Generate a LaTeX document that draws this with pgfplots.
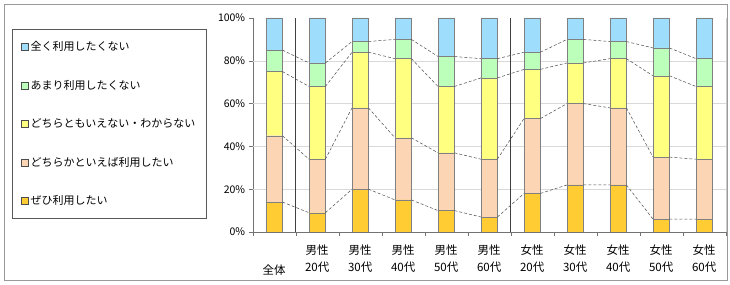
\documentclass[border=0pt]{standalone}
\usepackage{fontspec}
\setmainfont{Noto Sans CJK JP}
\usepackage{pgfplots}
\usepackage{pgfplotstable}
\pgfplotsset{compat=1.18}

\definecolor{cBlue}{HTML}{9EDDFB}
\definecolor{cGreen}{HTML}{BBFFBB}
\definecolor{cYellow}{HTML}{FFFF80}
\definecolor{cPeach}{HTML}{FCD5B4}
\definecolor{cOrange}{HTML}{FFCC33}

% 割合 (%) : ぜひ / どちらかといえば / どちらとも / あまり / 全く
\pgfplotstableread{
cat s1 s2 s3 s4 s5
0  14 31 30 10 15
1   9 25 34 11 21
2  20 38 26  5 11
3  15 29 37  9 10
4  10 27 31 14 18
5   7 27 38  9 19
6  18 35 23  8 16
7  22 38 19 11 10
8  22 36 23  8 11
9   6 29 38 13 14
10  6 28 34 13 19
}\answers

\pgfplotsset{
  chartbase/.style={
    scale only axis, width=473pt, height=214pt,
    at={(252.7pt,52pt)}, anchor=south west,
    xmin=-0.5, xmax=10.5, ymin=0, ymax=100,
  },
}

\begin{document}
\begin{tikzpicture}
\useasboundingbox (0,0) rectangle (730pt,284pt);
\draw[black!40] (4pt,4pt) rectangle (727pt,280pt);

\begin{axis}[chartbase,
  ybar stacked, bar width=0.38,
  axis lines*=left,
  axis line style={black!55},
  tick align=outside,
  major tick length=4pt,
  tick style={black!55},
  xtick style={draw=none},
  xtick={0,...,10},
  xticklabels={{\strut\\全体},{男性\\20代},{男性\\30代},{男性\\40代},{男性\\50代},{男性\\60代},{女性\\20代},{女性\\30代},{女性\\40代},{女性\\50代},{女性\\60代}},
  xticklabel style={align=center, font=\fontsize{11.5}{17.5}\selectfont, yshift=-5pt},
  ytick={0,20,40,60,80,100},
  yticklabels={0\%,20\%,40\%,60\%,80\%,100\%},
  yticklabel style={font=\fontsize{10.5}{12}\selectfont},
  extra y ticks={20,40,60,80},
  extra y tick labels={},
  extra y tick style={grid=major, major tick length=0pt},
  major grid style={black!15},
  every axis plot post/.append style={
    legend image code/.code={\draw[#1,draw=black!70] (0pt,-3.5pt) rectangle (7pt,3.5pt);}},
  reverse legend,
  legend cell align=left,
  legend style={at={(axis description cs:-0.509,0.9486)}, anchor=north west,
    draw=black!65, fill=white, font=\fontsize{11}{13}\selectfont,
    row sep=24pt, inner xsep=9pt, inner ysep=10pt},
]
\addplot[fill=cOrange, draw=black!50] table[x=cat, y=s1] {\answers};
\addlegendentry{ぜひ利用したい}
\addplot[fill=cPeach, draw=black!50] table[x=cat, y=s2] {\answers};
\addlegendentry{どちらかといえば利用したい}
\addplot[fill=cYellow, draw=black!50] table[x=cat, y=s3] {\answers};
\addlegendentry{どちらともいえない・わからない}
\addplot[fill=cGreen, draw=black!50] table[x=cat, y=s4] {\answers};
\addlegendentry{あまり利用したくない}
\addplot[fill=cBlue, draw=black!50] table[x=cat, y=s5] {\answers};
\addlegendentry{全く利用したくない}
\end{axis}

% separators, boundary ticks and series lines
\begin{axis}[chartbase,
  axis x line*=bottom, axis y line*=right,
  axis line style={black!55},
  y axis line style={black!20},
  ytick=\empty,
  xtick={-0.5,0.5,...,10.5}, xticklabels={},
  tick align=outside, major tick length=4pt,
  tick style={black!55},
  unbounded coords=jump,
]
\addplot[black!75, line width=1.1pt] coordinates {(0.5,0) (0.5,100)};
\addplot[black!75, line width=1.1pt] coordinates {(5.5,0) (5.5,100)};
\addplot[densely dashed, black!70, line width=0.5pt] coordinates {
  (0.19,14) (0.81,9) (1,nan) (1.19,9) (1.81,20) (2,nan) (2.19,20) (2.81,15) (3,nan)
  (3.19,15) (3.81,10) (4,nan) (4.19,10) (4.81,7) (5,nan) (5.19,7) (5.81,18) (6,nan)
  (6.19,18) (6.81,22) (7,nan) (7.19,22) (7.81,22) (8,nan) (8.19,22) (8.81,6) (9,nan)
  (9.19,6) (9.81,6)};
\addplot[densely dashed, black!70, line width=0.5pt] coordinates {
  (0.19,45) (0.81,34) (1,nan) (1.19,34) (1.81,58) (2,nan) (2.19,58) (2.81,44) (3,nan)
  (3.19,44) (3.81,37) (4,nan) (4.19,37) (4.81,34) (5,nan) (5.19,34) (5.81,53) (6,nan)
  (6.19,53) (6.81,60) (7,nan) (7.19,60) (7.81,58) (8,nan) (8.19,58) (8.81,35) (9,nan)
  (9.19,35) (9.81,34)};
\addplot[densely dashed, black!70, line width=0.5pt] coordinates {
  (0.19,75) (0.81,68) (1,nan) (1.19,68) (1.81,84) (2,nan) (2.19,84) (2.81,81) (3,nan)
  (3.19,81) (3.81,68) (4,nan) (4.19,68) (4.81,72) (5,nan) (5.19,72) (5.81,76) (6,nan)
  (6.19,76) (6.81,79) (7,nan) (7.19,79) (7.81,81) (8,nan) (8.19,81) (8.81,73) (9,nan)
  (9.19,73) (9.81,68)};
\addplot[densely dashed, black!70, line width=0.5pt] coordinates {
  (0.19,85) (0.81,79) (1,nan) (1.19,79) (1.81,89) (2,nan) (2.19,89) (2.81,90) (3,nan)
  (3.19,90) (3.81,82) (4,nan) (4.19,82) (4.81,81) (5,nan) (5.19,81) (5.81,84) (6,nan)
  (6.19,84) (6.81,90) (7,nan) (7.19,90) (7.81,89) (8,nan) (8.19,89) (8.81,86) (9,nan)
  (9.19,86) (9.81,81)};
\end{axis}
\end{tikzpicture}
\end{document}
